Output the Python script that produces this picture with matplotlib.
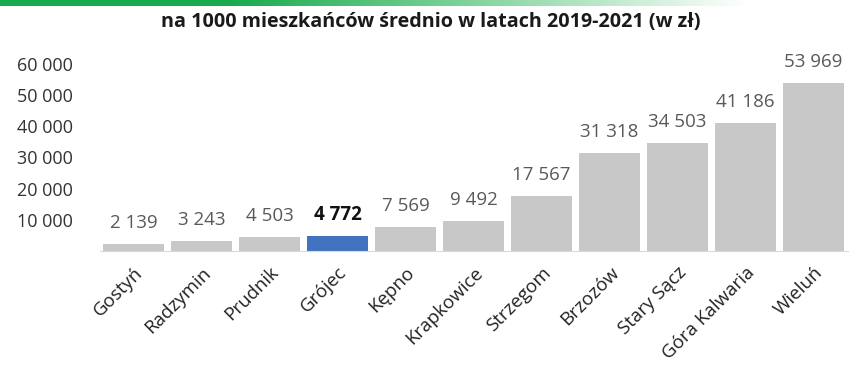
import numpy as np
import matplotlib
matplotlib.use('Agg')
import matplotlib.pyplot as plt
from matplotlib.colors import LinearSegmentedColormap

plt.rcParams['font.family'] = ['Open Sans', 'DejaVu Sans']

towns = ['Gostyń', 'Radzymin', 'Prudnik', 'Grójec', 'Kępno', 'Krapkowice',
         'Strzegom', 'Brzozów', 'Stary Sącz', 'Góra Kalwaria', 'Wieluń']
values = [2139, 3243, 4503, 4772, 7569, 9492, 17567, 31318, 34503, 41186, 53969]
highlight = 'Grójec'
yticks = [10000, 20000, 30000, 40000, 50000, 60000]

W, H = 851, 365
fig = plt.figure(figsize=(W / 100, H / 100), dpi=100, facecolor='white')

# green strip at the top
strip = fig.add_axes([0, 1 - 6 / H, 1, 6 / H])
grad = np.linspace(0, 1, 851)[None, :]
cmap_strip = LinearSegmentedColormap.from_list(
    'strip', [(0, '#1aaa4e'), (0.27, '#1aaa4e'), (0.55, '#7fd39a'), (0.88, '#ffffff'), (1, '#ffffff')])
strip.imshow(grad, aspect='auto', cmap=cmap_strip, extent=[0, 1, 0, 1])
strip.axis('off')

fig.text(431 / W, 1 - 22 / H, 'na 1000 mieszkańców średnio w latach 2019-2021 (w zł)',
         ha='center', va='center', fontsize=14.2, fontweight='bold', color='#1a1a1a')

ax = fig.add_axes([99.5 / W, 1 - 251 / H, 748 / W, (251 - 64) / H])
x = np.arange(len(towns))
colors = ['#4273c0' if t == highlight else '#c8c8c8' for t in towns]
ax.bar(x, values, width=0.9, color=colors)

def fmt(v):
    return f'{v:,}'.replace(',', ' ')

for xi, v, t in zip(x, values, towns):
    if t == highlight:
        ax.annotate(fmt(v), (xi, v), xytext=(0, 11.5), textcoords='offset points',
                    ha='center', va='baseline', fontsize=13.5, fontweight='bold',
                    color='#111111', annotation_clip=False)
    else:
        ax.annotate(fmt(v), (xi, v), xytext=(0, 11.5), textcoords='offset points',
                    ha='center', va='baseline', fontsize=13.5, color='#595959',
                    annotation_clip=False)

ax.set_xlim(-0.5, len(towns) - 0.5)
ax.set_ylim(0, 60000)
ax.set_yticks(yticks)
ax.set_yticklabels([fmt(v) for v in yticks], fontsize=13, color='#333333')
ax.set_xticks(x)
ax.set_xticklabels(towns, rotation=45, ha='right', rotation_mode='anchor',
                   fontsize=13.5, color='#222222')
ax.tick_params(axis='both', length=0)
ax.tick_params(axis='y', pad=19)
ax.tick_params(axis='x', pad=9)
for s in ['top', 'right', 'left']:
    ax.spines[s].set_visible(False)
ax.spines['bottom'].set_color('#d9d9d9')

fig.savefig('out.png', dpi=100, facecolor='white')
